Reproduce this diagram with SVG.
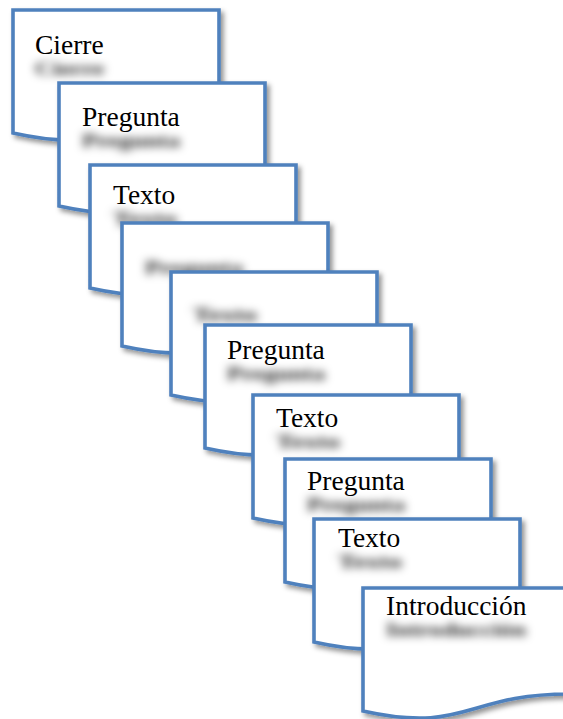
<svg xmlns="http://www.w3.org/2000/svg" xmlns:xlink="http://www.w3.org/1999/xlink" width="563" height="719" viewBox="0 0 563 719">
  <style>
    .card { fill: #ffffff; stroke: #4f81bd; stroke-width: 3.6; stroke-linejoin: miter; filter: url(#cardShadow); }
    .lbl { font-family: "Liberation Serif", "Times New Roman", serif; font-size: 27.5px; fill: #000000; }
    .shd { font-family: "Liberation Serif", "Times New Roman", serif; font-size: 18px; font-weight: bold; fill: #000000; fill-opacity: 0.85; filter: url(#textBlur); }
  </style>
  <defs>
    <path id="doc" d="M0,0 H206 V106 C103,106 103,146 0,123 Z"/>
    <filter id="cardShadow" x="-10%" y="-10%" width="130%" height="130%">
      <feDropShadow dx="3" dy="3.5" stdDeviation="2.4" flood-color="#000000" flood-opacity="0.42"/>
    </filter>
    <filter id="textBlur" x="-30%" y="-100%" width="160%" height="300%">
      <feGaussianBlur stdDeviation="4.6 4"/>
    </filter>
  </defs>
  <rect width="563" height="719" fill="#ffffff"/>

  <g id="card1">
    <use xlink:href="#doc" class="card" transform="translate(13,10)"/>
    <text class="shd" x="35" y="75" textLength="69" lengthAdjust="spacingAndGlyphs">Cierre</text>
    <text class="lbl" x="35" y="54">Cierre</text>
  </g>
  <g id="card2">
    <use xlink:href="#doc" class="card" transform="translate(59,83)"/>
    <text class="shd" x="82" y="147" textLength="98" lengthAdjust="spacingAndGlyphs">Pregunta</text>
    <text class="lbl" x="82" y="126">Pregunta</text>
  </g>
  <g id="card3">
    <use xlink:href="#doc" class="card" transform="translate(90,165)"/>
    <text class="shd" x="113" y="225" textLength="64" lengthAdjust="spacingAndGlyphs">Texto</text>
    <text class="lbl" x="113" y="204">Texto</text>
  </g>
  <g id="card4">
    <use xlink:href="#doc" class="card" transform="translate(122,223)"/>
    <text class="shd" x="145" y="274" textLength="98" lengthAdjust="spacingAndGlyphs">Pregunta</text>
  </g>
  <g id="card5">
    <use xlink:href="#doc" class="card" transform="translate(171,272)"/>
    <text class="shd" x="193" y="321" textLength="64" lengthAdjust="spacingAndGlyphs">Texto</text>
  </g>
  <g id="card6">
    <use xlink:href="#doc" class="card" transform="translate(205,325)"/>
    <text class="shd" x="227" y="380" textLength="98" lengthAdjust="spacingAndGlyphs">Pregunta</text>
    <text class="lbl" x="227" y="359">Pregunta</text>
  </g>
  <g id="card7">
    <use xlink:href="#doc" class="card" transform="translate(253,395)"/>
    <text class="shd" x="276" y="448" textLength="64" lengthAdjust="spacingAndGlyphs">Texto</text>
    <text class="lbl" x="276" y="427">Texto</text>
  </g>
  <g id="card8">
    <use xlink:href="#doc" class="card" transform="translate(285,459)"/>
    <text class="shd" x="307" y="511" textLength="98" lengthAdjust="spacingAndGlyphs">Pregunta</text>
    <text class="lbl" x="307" y="490">Pregunta</text>
  </g>
  <g id="card9">
    <use xlink:href="#doc" class="card" transform="translate(314,519)"/>
    <text class="shd" x="338" y="568" textLength="64" lengthAdjust="spacingAndGlyphs">Texto</text>
    <text class="lbl" x="338" y="547">Texto</text>
  </g>
  <g id="card10">
    <use xlink:href="#doc" class="card" transform="translate(363,588)"/>
    <text class="shd" x="386" y="636" textLength="140" lengthAdjust="spacingAndGlyphs">Introducción</text>
    <text class="lbl" x="386" y="615">Introducción</text>
  </g>
  <g id="connectors"/>
</svg>
